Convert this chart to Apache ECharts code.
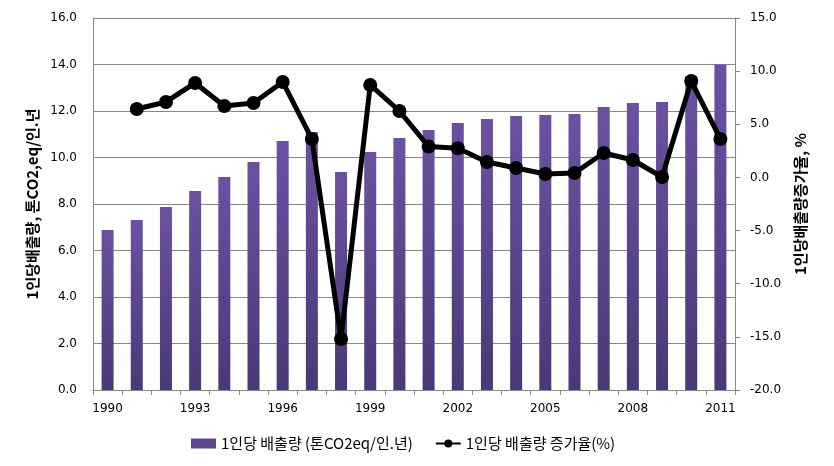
<!DOCTYPE html>
<html><head><meta charset="utf-8">
<script src="https://cdn.jsdelivr.net/npm/echarts@6/dist/echarts.min.js"></script>
<style>html,body{margin:0;padding:0;background:#fff}#c{width:834px;height:466px}</style>
</head><body><div id="c"></div>
<script>
const years = ['1990','1991','1992','1993','1994','1995','1996','1997','1998','1999','2000','2001','2002','2003','2004','2005','2006','2007','2008','2009','2010','2011'];
const perCapita = [6.88,7.31,7.87,8.56,9.16,9.81,10.71,11.1,9.38,10.24,10.84,11.18,11.48,11.66,11.78,11.83,11.87,12.17,12.34,12.39,13.5,14.0];
const growthRate = [null,6.44,7.1,8.89,6.72,7.0,8.98,3.62,-15.2,8.7,6.25,2.9,2.74,1.45,0.89,0.32,0.42,2.3,1.64,0.04,9.07,3.62];
const barName = '1인당 배출량 (톤CO2eq/인.년)';
const lineName = '1인당 배출량 증가율(%)';
const leftAxisName = '1인당배출량, 톤CO2,eq/인.년';
const rightAxisName = '1인당배출량증가율, %';

const numFont = 'DejaVu Sans';
const krFont = 'Noto Sans CJK KR';
const chart = echarts.init(document.getElementById('c'));
chart.setOption({
  animation: false,
  grid: {left: 93, right: 99, top: 18, bottom: 76},
  legend: {
    bottom: 10, left: 186, itemGap: 22,
    textStyle: {fontFamily: krFont, fontSize: 15, color: '#000'},
    data: [
      {name: barName, icon: 'rect', itemStyle: {color: '#5f4790'}},
      {name: lineName}
    ],
    itemWidth: 25, itemHeight: 10
  },
  xAxis: {
    type: 'category', data: years, boundaryGap: true,
    axisLine: {lineStyle: {color: '#888'}},
    axisTick: {show: true, interval: 0, length: 5, lineStyle: {color: '#888'}},
    axisLabel: {interval: 2, fontFamily: numFont, fontSize: 12, color: '#000', margin: 13}
  },
  yAxis: [
    {
      type: 'value', min: 0, max: 16, interval: 2, position: 'left',
      name: leftAxisName, nameLocation: 'middle', nameRotate: 90, nameGap: 50,
      nameTextStyle: {fontFamily: krFont, fontSize: 15, fontWeight: 'bold', color: '#000'},
      axisLine: {show: true, lineStyle: {color: '#888'}},
      axisTick: {show: false},
      splitLine: {lineStyle: {color: '#888'}},
      axisLabel: {formatter: v => v.toFixed(1), fontFamily: numFont, fontSize: 12, color: '#000', margin: 16}
    },
    {
      type: 'value', min: -20, max: 15, interval: 5, position: 'right',
      name: rightAxisName, nameLocation: 'middle', nameRotate: 90, nameGap: 58,
      nameTextStyle: {fontFamily: krFont, fontSize: 15, fontWeight: 'bold', color: '#000'},
      axisLine: {show: true, lineStyle: {color: '#888'}},
      axisTick: {show: true, length: 5, lineStyle: {color: '#888'}},
      splitLine: {show: false},
      axisLabel: {formatter: v => v.toFixed(1), fontFamily: numFont, fontSize: 12, color: '#000', margin: 15}
    }
  ],
  series: [
    {
      name: barName, type: 'bar', yAxisIndex: 0, data: perCapita, barWidth: 12,
      itemStyle: {color: new echarts.graphic.LinearGradient(0,0,0,1,[{offset:0,color:'#6c51a2'},{offset:1,color:'#4a3877'}])}
    },
    {
      name: lineName, type: 'line', yAxisIndex: 1, data: growthRate,
      symbol: 'circle', symbolSize: 14, connectNulls: false,
      lineStyle: {color: '#000', width: 5},
      itemStyle: {color: '#000'}
    }
  ]
});
</script></body></html>
